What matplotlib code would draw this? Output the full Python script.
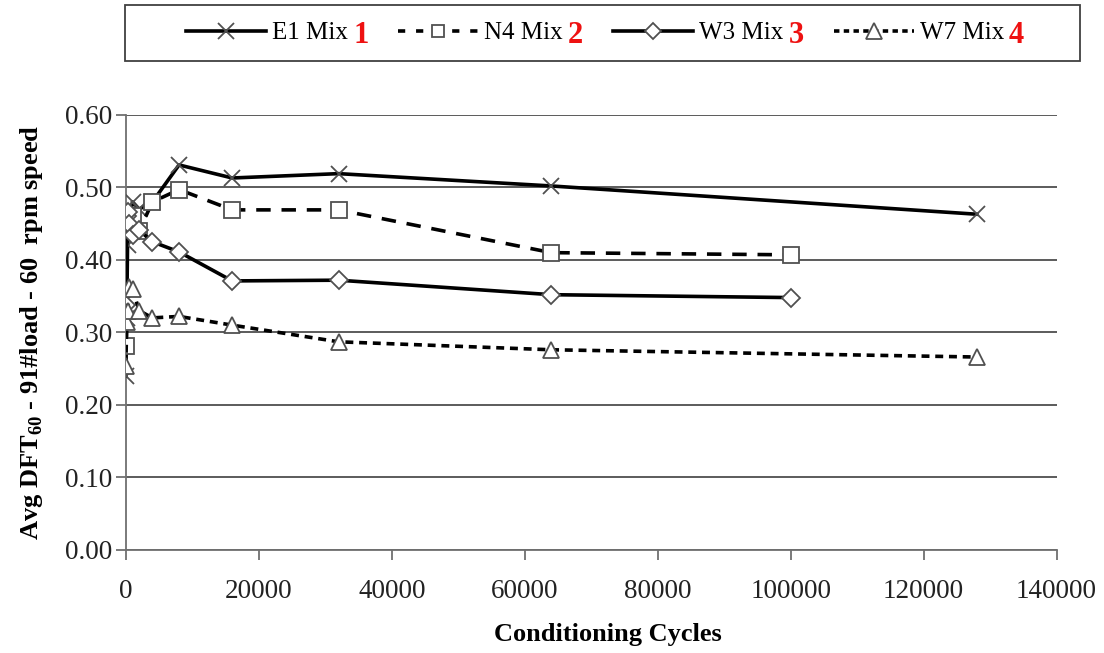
import numpy as np
import matplotlib
matplotlib.use("Agg")
import matplotlib.pyplot as plt
from matplotlib.lines import Line2D
from matplotlib.patches import Rectangle

plt.rcParams['font.family'] = ['Liberation Serif', 'DejaVu Serif']
plt.rcParams['mathtext.fontset'] = 'custom'
plt.rcParams['mathtext.rm'] = 'Liberation Serif'
plt.rcParams['mathtext.bf'] = 'Liberation Serif:bold'

# Conditioning cycles and average DFT60 values per mix
cycles_long = [0, 125, 250, 500, 1000, 2000, 4000, 8000, 16000, 32000, 64000, 128000]
cycles_short = [0, 125, 250, 500, 1000, 2000, 4000, 8000, 16000, 32000, 64000, 100000]

e1_mix = [0.24, 0.32, 0.42, 0.455, 0.48, 0.47, 0.48, 0.531, 0.513, 0.519, 0.502, 0.463]
n4_mix = [0.281, 0.455, 0.46, 0.45, 0.46, 0.44, 0.48, 0.497, 0.469, 0.469, 0.41, 0.407]
w3_mix = [0.338, 0.46, 0.466, 0.45, 0.435, 0.441, 0.425, 0.411, 0.371, 0.372, 0.352, 0.348]
w7_mix = [0.253, 0.314, 0.33, 0.362, 0.36, 0.33, 0.32, 0.322, 0.31, 0.287, 0.276, 0.266]

labels = ["E1 Mix", "N4 Mix", "W3 Mix", "W7 Mix"]
numbers = ["1", "2", "3", "4"]

W, H = 1104, 653
fig = plt.figure(figsize=(W / 100, H / 100), dpi=100)
ax = fig.add_axes([0.114, 0.158, 0.843, 0.666])

edge = '#505050'
lw = 2.6
ax.plot(cycles_long, e1_mix, color='black', lw=lw, marker='x', ms=12,
        mew=1.3, mec=edge, zorder=3)
ax.plot(cycles_short, n4_mix, color='black', lw=lw, ls=(0, (4, 3)), marker='s',
        ms=11, mew=1.3, mec=edge, mfc='white', zorder=3)
ax.plot(cycles_short, w3_mix, color='black', lw=lw, marker='D', ms=9,
        mew=1.3, mec=edge, mfc='white', zorder=3)
ax.plot(cycles_long, w7_mix, color='black', lw=lw, ls=(0, (2.2, 1.6)), marker='^',
        ms=12, mew=1.3, mec=edge, mfc='white', zorder=3)

ax.set_xlim(0, 140000)
ax.set_ylim(0, 0.6)
ax.set_xticks(np.arange(0, 140001, 20000))
ax.set_yticks(np.arange(0, 0.61, 0.1))
ax.set_yticklabels([f"{v:.2f}" for v in np.arange(0, 0.61, 0.1)])
ax.yaxis.grid(True, color='#404040', lw=1.2)
ax.set_axisbelow(True)
for s in ['top', 'right']:
    ax.spines[s].set_visible(False)
for s in ['left', 'bottom']:
    ax.spines[s].set_color('#707070')
    ax.spines[s].set_linewidth(1.3)
ax.tick_params(axis='both', labelsize=19.5, color='#707070', width=1.3,
               length=7, direction='out', labelcolor='#222222')
ax.tick_params(axis='x', pad=14)
ax.tick_params(axis='y', pad=3)

ax.set_xlabel("Conditioning Cycles", fontsize=19, fontweight='bold')
ax.xaxis.set_label_coords(0.518, -0.168)
ax.set_ylabel(r"Avg DFT$_{\mathbf{60}}$ - 91#load - 60  rpm speed",
              fontsize=19, fontweight='bold', labelpad=14)

# legend frame across the top
fig.patches.append(Rectangle((125 / W, 1 - 61 / H), 955 / W, 56 / H,
                             transform=fig.transFigure, fill=False,
                             edgecolor='#404040', lw=1.3))

handles = [
    Line2D([], [], color='black', lw=lw, marker='x', ms=12, mew=1.3, mec=edge),
    Line2D([], [], color='black', lw=lw, ls=(0, (2, 3)), marker='s', ms=9,
           mew=1.3, mec=edge, mfc='white'),
    Line2D([], [], color='black', lw=lw, marker='D', ms=8, mew=1.3, mec=edge,
           mfc='white'),
    Line2D([], [], color='black', lw=lw, ls=(0, (1.5, 1.2)), marker='^', ms=11,
           mew=1.3, mec=edge, mfc='white'),
]
# column gaps leave room for the red mix numbers
leg = fig.legend(handles, labels, loc='center left',
                 bbox_to_anchor=(186 / W, 1 - 33 / H), ncol=4, fontsize=18,
                 frameon=False, handlelength=3.2, handletextpad=0.25,
                 columnspacing=2.0, borderpad=0.0, borderaxespad=0)

fig.canvas.draw()
renderer = fig.canvas.get_renderer()
inv = fig.transFigure.inverted()
for txt, num in zip(leg.get_texts(), numbers):
    bb = txt.get_window_extent(renderer)
    x0, y0 = inv.transform((bb.x1 + 5, (bb.y0 + bb.y1) / 2))
    fig.text(x0, y0 - 0.004, num, color='#ee1111', fontsize=22,
             fontweight='bold', ha='left', va='center', zorder=10)

fig.savefig("out.png", dpi=100)
